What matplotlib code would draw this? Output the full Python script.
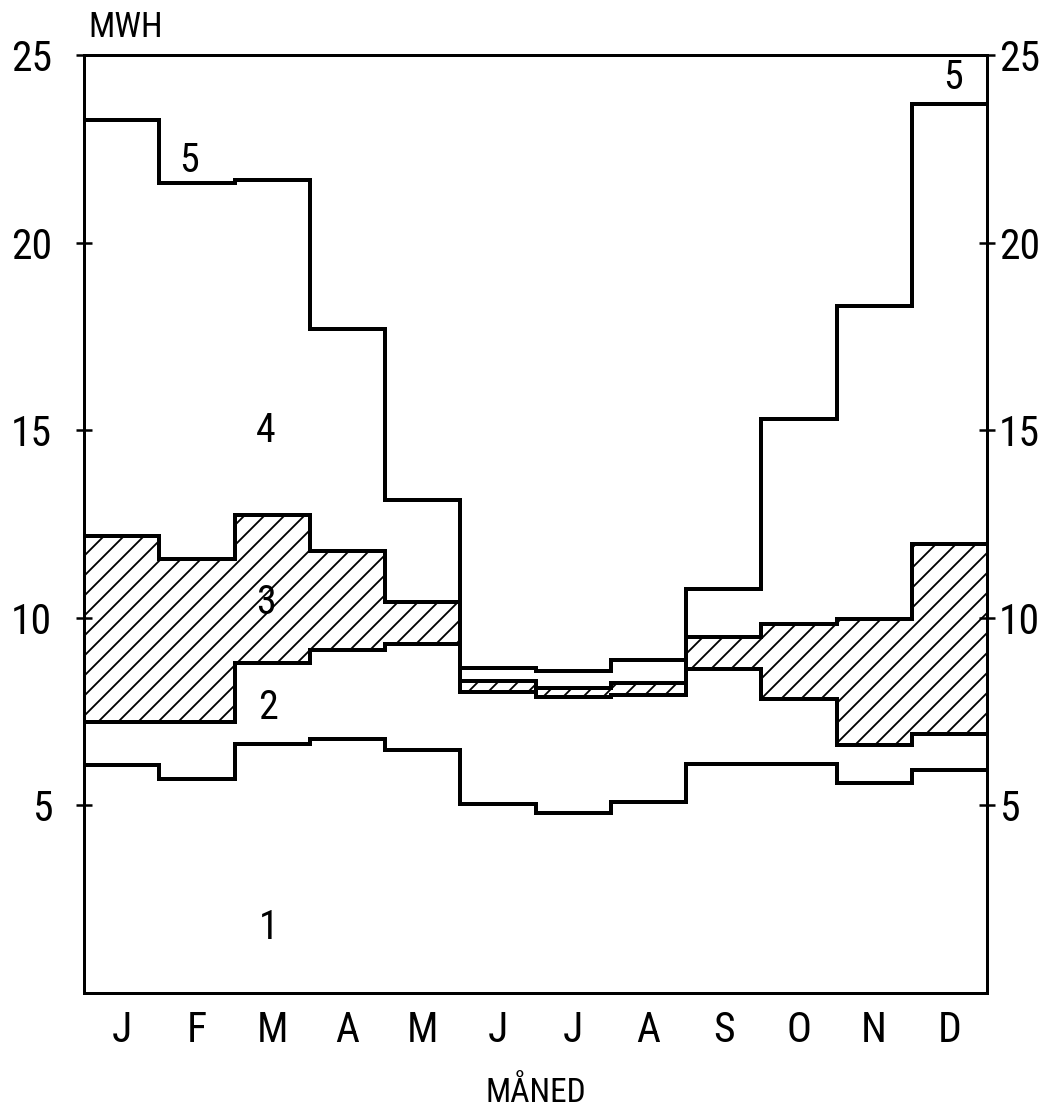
import numpy as np
import matplotlib.pyplot as plt

# month labels (Danish) and boundary levels, in MWH
MONTHS = ['J', 'F', 'M', 'A', 'M', 'J', 'J', 'A', 'S', 'O', 'N', 'D']

# top of area 1
level_1 = [6.07, 5.70, 6.63, 6.77, 6.47, 5.03, 4.81, 5.08, 6.10, 6.10, 5.59, 5.94]
# top of area 2 = bottom of the hatched area 3
level_2 = [7.22, 7.22, 8.80, 9.14, 9.30, 8.02, 7.89, 7.94, 8.64, 7.83, 6.60, 6.90]
# top of the hatched area 3
level_3 = [12.17, 11.58, 12.75, 11.79, 10.43, 8.31, 8.13, 8.26, 9.49, 9.84, 9.97, 11.98]
# top of area 4 (area 5 lies above)
level_4 = [23.26, 21.58, 21.66, 17.70, 13.15, 8.66, 8.58, 8.88, 10.78, 15.30, 18.30, 23.69]

AREA_LABELS = ['1', '2', '3', '4', '5', '5']
LABEL_X = [2.45, 2.45, 2.42, 2.42, 1.40, 11.55]
LABEL_Y = [1.75, 7.60, 10.40, 15.00, 22.20, 24.40]

Y_TICKS = [5, 10, 15, 20, 25]

plt.rcParams['font.family'] = ['Liberation Sans Narrow', 'Roboto Condensed',
                               'DejaVu Sans']
plt.rcParams['font.stretch'] = 'condensed'
plt.rcParams['hatch.linewidth'] = 1.1

DPI = 120
fig = plt.figure(figsize=(1045 / DPI, 1109 / DPI), dpi=DPI)
ax = fig.add_axes([0.0804, 0.1046, 0.8641, 0.8458])

edges = np.arange(len(MONTHS) + 1)

# hatched area 3
ax.stairs(level_3, edges, baseline=level_2, fill=True, facecolor='none',
          edgecolor='black', hatch='//', linewidth=0)

# step boundaries
for lev in (level_1, level_2, level_3, level_4):
    ax.stairs(lev, edges, baseline=None, color='black', linewidth=2.4)

for txt, x, y in zip(AREA_LABELS, LABEL_X, LABEL_Y):
    ax.text(x, y, txt, ha='center', va='center', fontsize=24)

ax.set_xlim(0, 12)
ax.set_ylim(0, 25)

for s in ax.spines.values():
    s.set_linewidth(1.8)

ax.set_xticks(edges[:-1] + 0.5)
ax.set_xticklabels(MONTHS, fontsize=25)
ax.tick_params(axis='x', length=0, pad=10)

ax.set_yticks(Y_TICKS)
ax.set_yticklabels([str(v) for v in Y_TICKS], fontsize=25)
ax.tick_params(axis='y', direction='inout', length=10, width=1.5, pad=14)

right = ax.secondary_yaxis('right')
right.set_yticks(Y_TICKS)
right.set_yticklabels([str(v) for v in Y_TICKS], fontsize=25)
right.tick_params(axis='y', direction='inout', length=10, width=1.5, pad=2)
right.spines['right'].set_linewidth(1.8)

ax.set_xlabel('MÅNED', fontsize=20, labelpad=16)
ax.text(0.005, 1.012, 'MWH', transform=ax.transAxes, ha='left', va='bottom',
        fontsize=21)

fig.savefig('out.png', dpi=DPI, facecolor='white')
